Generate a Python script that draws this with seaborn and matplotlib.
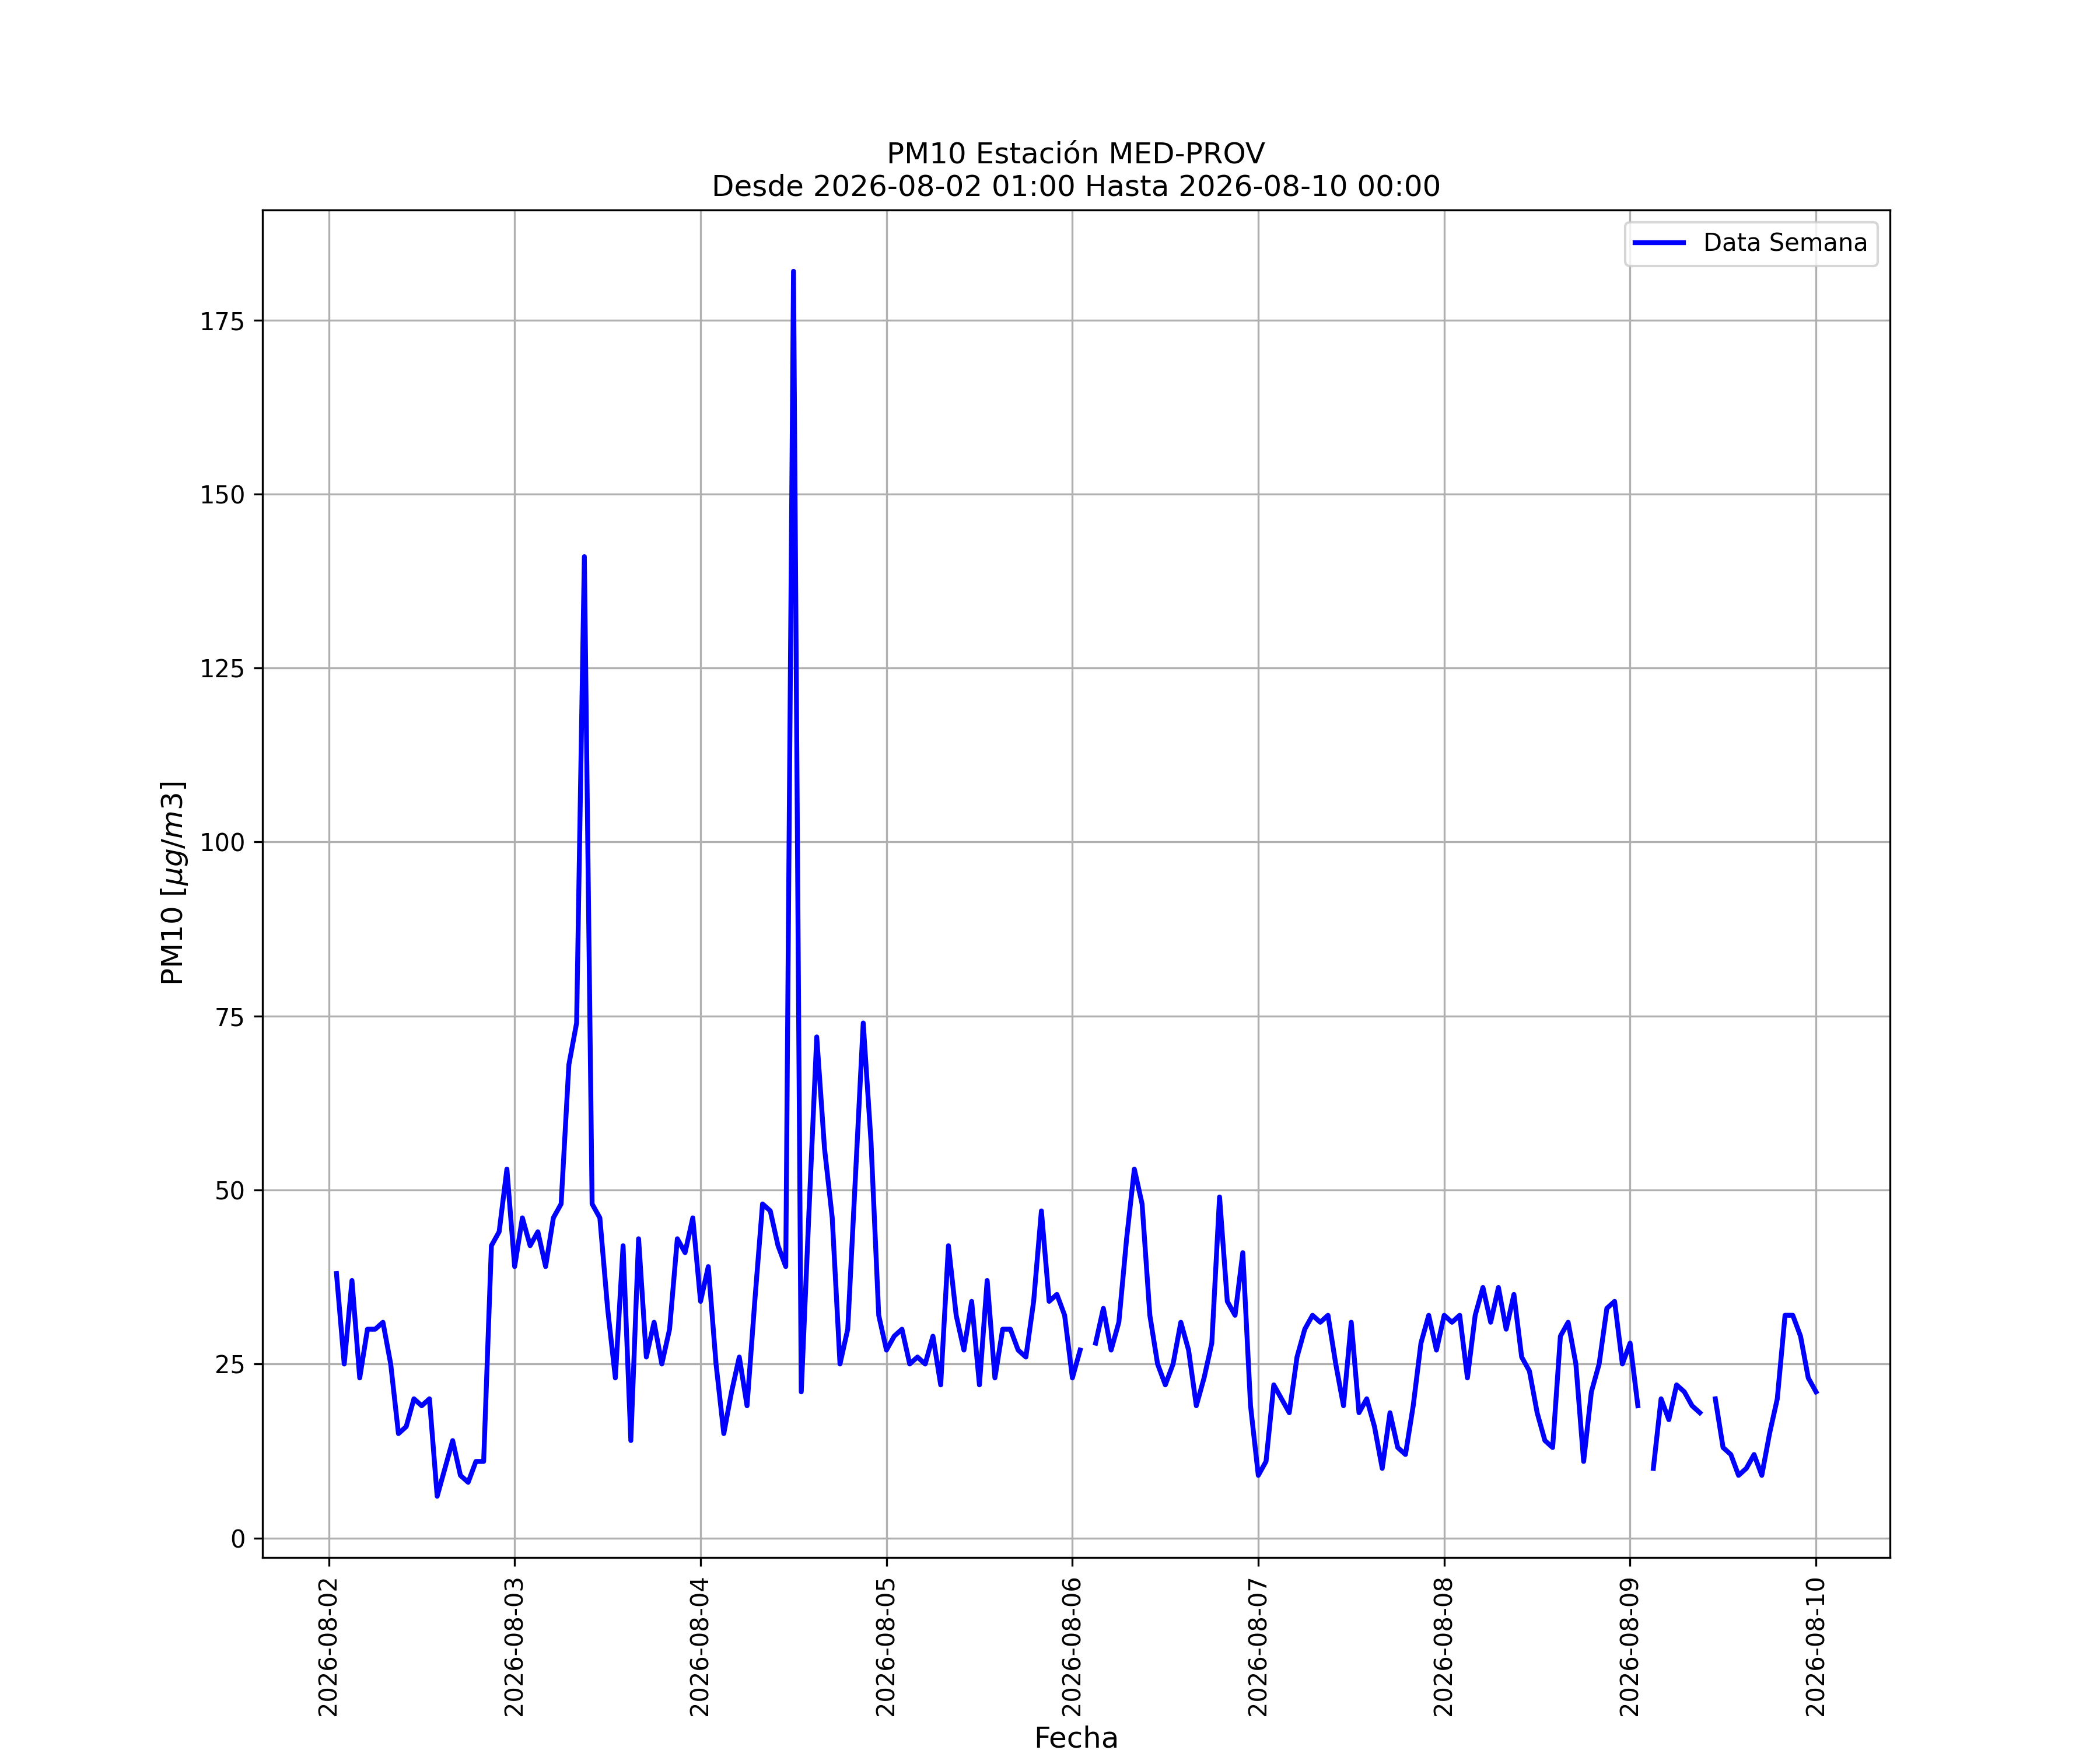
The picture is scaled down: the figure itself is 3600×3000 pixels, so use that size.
import numpy as np
import pandas as pd
import matplotlib
matplotlib.use("Agg")
import matplotlib.pyplot as plt
import matplotlib.dates as mdates
import seaborn as sns

nan = np.nan

STATION = "MED-PROV"
START = "2026-08-02 01:00"
END = "2026-08-10 00:00"

# hourly PM10 values, one list per day (hour 01 .. 24)
day_02 = [38, 25, 37, 23, 30, 30, 31, 25, 15, 16, 20, 19, 20, 6, 10, 14, 9, 8, 11, 11, 42, 44, 53, 39]
day_03 = [46, 42, 44, 39, 46, 48, 68, 74, 141, 48, 46, 33, 23, 42, 14, 43, 26, 31, 25, 30, 43, 41, 46, 34]
day_04 = [39, 25, 15, 21, 26, 19, 34, 48, 47, 42, 39, 182, 21, 47, 72, 56, 46, 25, 30, 52, 74, 57, 32, 27]
day_05 = [29, 30, 25, 26, 25, 29, 22, 42, 32, 27, 34, 22, 37, 23, 30, 30, 27, 26, 34, 47, 34, 35, 32, 23]
day_06 = [27, nan, 28, 33, 27, 31, 43, 53, 48, 32, 25, 22, 25, 31, 27, 19, 23, 28, 49, 34, 32, 41, 19, 9]
day_07 = [11, 22, 20, 18, 26, 30, 32, 31, 32, 25, 19, 31, 18, 20, 16, 10, 18, 13, 12, 19, 28, 32, 27, 32]
day_08 = [31, 32, 23, 32, 36, 31, 36, 30, 35, 26, 24, 18, 14, 13, 29, 31, 25, 11, 21, 25, 33, 34, 25, 28]
day_09 = [19, nan, 10, 20, 17, 22, 21, 19, 18, nan, 20, 13, 12, 9, 10, 12, 9, 15, 20, 32, 32, 29, 23, 21]

pm10 = day_02 + day_03 + day_04 + day_05 + day_06 + day_07 + day_08 + day_09
fechas = pd.date_range(START, END, freq="h")

df = pd.DataFrame({"Fecha": fechas, "PM10": pm10})

fig, ax = plt.subplots(figsize=(12, 10), dpi=300)

# split at gaps so missing hours show as breaks in the line
df["tramo"] = df["PM10"].isna().cumsum()
first = True
for _, seg in df.dropna(subset=["PM10"]).groupby("tramo"):
    sns.lineplot(data=seg, x="Fecha", y="PM10", ax=ax, color="blue", linewidth=2,
                 estimator=None, label="Data Semana" if first else None, legend=first)
    first = False

ax.set_title(f"PM10 Estación {STATION}\nDesde {START} Hasta {END}", fontsize=12)
ax.set_xlabel("Fecha", fontsize=12)
ax.set_ylabel(r"PM10 [$\mu g/m3$]", fontsize=12)
ax.xaxis.set_major_locator(mdates.DayLocator())
ax.xaxis.set_major_formatter(mdates.DateFormatter("%Y-%m-%d"))
plt.setp(ax.get_xticklabels(), rotation=90)
ax.grid(True)
ax.legend(loc="upper right")

plt.savefig("out.png")
plt.close()
